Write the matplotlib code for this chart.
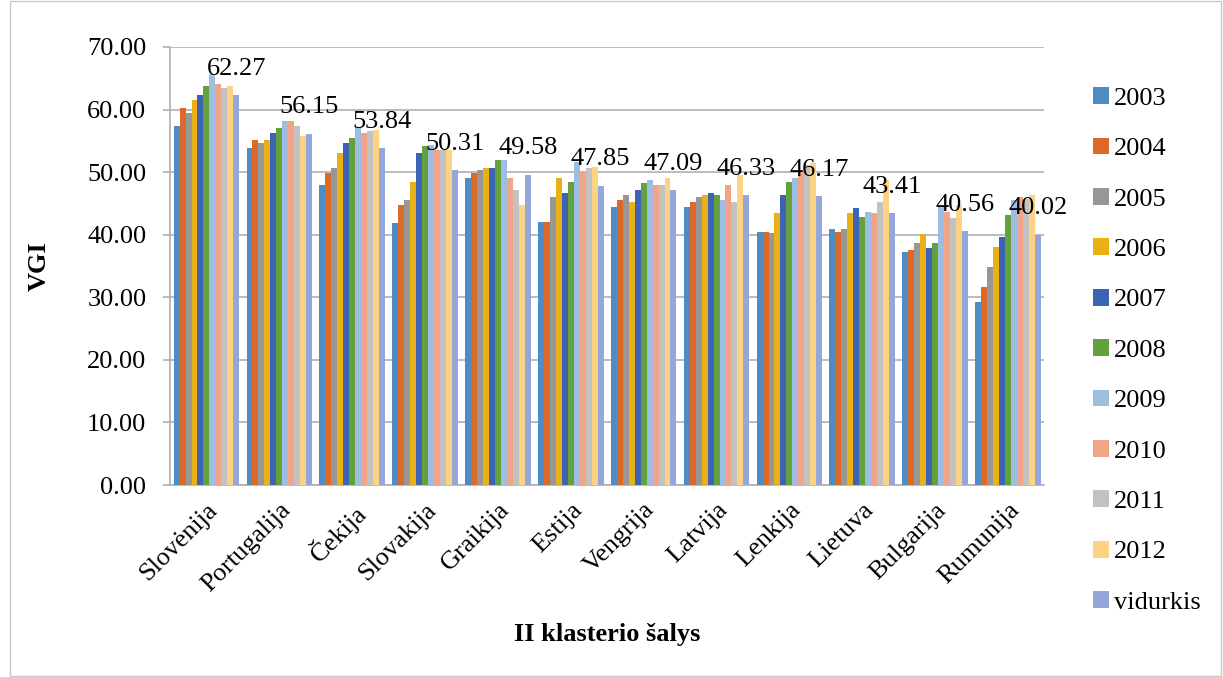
import numpy as np
import matplotlib.pyplot as plt
from matplotlib.patches import Rectangle

plt.rcParams['font.family'] = ['Liberation Serif', 'DejaVu Serif']

countries = ['Slovėnija', 'Portugalija', 'Čekija', 'Slovakija', 'Graikija', 'Estija',
             'Vengrija', 'Latvija', 'Lenkija', 'Lietuva', 'Bulgarija', 'Rumunija']
series = ['2003', '2004', '2005', '2006', '2007', '2008', '2009', '2010', '2011', '2012', 'vidurkis']

v2003 = [57.4, 53.9, 47.9, 41.8, 49.1, 42.1, 44.4, 44.4, 40.5, 40.9, 37.2, 29.2]
v2004 = [60.2, 55.1, 49.9, 44.8, 49.9, 42.0, 45.5, 45.2, 40.5, 40.5, 37.5, 31.6]
v2005 = [59.4, 54.6, 50.6, 45.6, 50.3, 46.1, 46.3, 46.0, 40.2, 40.9, 38.6, 34.8]
v2006 = [61.6, 55.1, 53.0, 48.4, 50.7, 49.0, 45.3, 46.4, 43.4, 43.4, 40.1, 38.1]
v2007 = [62.4, 56.2, 54.6, 53.1, 50.6, 46.6, 47.1, 46.6, 46.4, 44.2, 37.8, 39.7]
v2008 = [63.7, 57.0, 55.4, 54.1, 52.0, 48.4, 48.2, 46.3, 48.4, 42.9, 38.6, 43.1]
v2009 = [65.7, 58.1, 57.0, 54.4, 51.9, 51.6, 48.8, 45.5, 49.1, 43.6, 44.4, 45.5]
v2010 = [64.1, 58.2, 56.3, 53.5, 49.1, 50.1, 48.0, 47.9, 50.1, 43.4, 43.6, 46.1]
v2011 = [63.5, 57.3, 56.5, 53.5, 47.1, 50.6, 48.0, 45.2, 51.1, 45.3, 42.6, 45.7]
v2012 = [63.7, 55.7, 56.8, 53.5, 44.7, 50.9, 49.0, 49.6, 51.5, 48.8, 44.8, 46.4]
vidurkis = [62.27, 56.15, 53.84, 50.31, 49.58, 47.85, 47.09, 46.33, 46.17, 43.41, 40.56, 40.02]

colors = ['#4f8cc4', '#db6a28', '#979797', '#eab017', '#3d64b4', '#65a03e',
          '#9dbde3', '#f2a488', '#c2c2c2', '#fcd383', '#95a6da']

data = [v2003, v2004, v2005, v2006, v2007, v2008, v2009, v2010, v2011, v2012, vidurkis]

fig = plt.figure(figsize=(12.23, 6.77), dpi=100)
ax = fig.add_axes([0.139, 0.2836, 0.715, 0.647])

x = np.arange(len(countries))
n = len(series)
w = 0.9 / n
for i, (name, vals) in enumerate(zip(series, data)):
    pos = x - 0.45 + w * (i + 0.5)
    ax.bar(pos, vals, w, color=colors[i], label=name, zorder=3)
    # only the average gets value labels
    if name == 'vidurkis':
        for p, v in zip(pos, vals):
            ax.annotate('%.2f' % v, (p, v), xytext=(0, 11), textcoords='offset points',
                        ha='center', va='bottom', fontsize=19, zorder=4)

ax.set_xlim(-0.5, len(countries) - 0.5)
ax.set_ylim(0, 70)
ax.set_yticks(np.arange(0, 71, 10))
ax.set_yticklabels(['%.2f' % t for t in np.arange(0, 71, 10)], fontsize=19)
ax.set_xticks(x)
ax.set_xticklabels(countries, rotation=45, ha='right', rotation_mode='anchor', fontsize=19)
ax.tick_params(axis='x', length=0, pad=10)
ax.tick_params(axis='y', length=5, width=1.2, color='#b0b0b0', pad=12)
ax.yaxis.grid(True, color='#b0b0b0', linewidth=1.2, zorder=0)
for s in ['top', 'right']:
    ax.spines[s].set_visible(False)
ax.spines['left'].set_color('#b0b0b0')
ax.spines['bottom'].set_color('#b0b0b0')
ax.spines['left'].set_linewidth(1.2)
ax.spines['bottom'].set_linewidth(1.2)

ax.set_ylabel('VGI', fontsize=19, fontweight='bold', labelpad=26)
ax.set_xlabel('II klasterio šalys', fontsize=19, fontweight='bold')
ax.xaxis.set_label_coords(0.5, -0.315)

ax.legend(loc='center left', bbox_to_anchor=(1.028, 0.307), frameon=False, fontsize=19,
          labelspacing=1.05, handlelength=0.6, handleheight=0.6, handletextpad=0.2)

fig.patches.append(Rectangle((0.008, 0.002), 0.99, 0.996, transform=fig.transFigure,
                             fill=False, edgecolor='#c8c8c8', linewidth=1))

fig.savefig('out.png', dpi=100)
